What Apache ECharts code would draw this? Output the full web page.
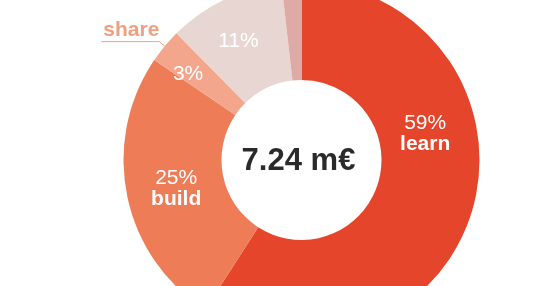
<!DOCTYPE html>
<html><head><meta charset="utf-8">
<script src="https://cdn.jsdelivr.net/npm/echarts@6/dist/echarts.min.js"></script>
<style>html,body{margin:0;padding:0;background:#fff;overflow:hidden}#c{width:553px;height:286px}</style>
</head><body><div id="c"></div>
<script>
// --- data ---
const names = ['learn', 'build', 'share', 'connect', 'other'];
const values = [59.1, 25.4, 3.1, 10.6, 1.8];
const totalLabel = '7.24 m€';
const showNameInside = [true, true, false, false, false];
const showNameOutside = [false, false, true, false, false];
const showPercent = [true, true, true, true, false];

// --- style ---
const colors = ['#E5452A', '#EE7C56', '#F3A68C', '#E8D6D3', '#DEAAA5'];
const labelShift = [[-3, -64], [4, 2], [-12, -1], [-6, 0], [0, 0]];
const FONT = '"Liberation Sans", Arial, sans-serif';
const CENTER = [301.5, 160];
const RADIUS = [80, 178];

const chart = echarts.init(document.getElementById('c'), null, {renderer: 'canvas'});

const innerData = names.map((n, i) => ({
  name: n, value: values[i],
  itemStyle: {color: colors[i]},
  label: {show: showPercent[i]}
}));
const outerData = names.map((n, i) => ({
  name: n, value: values[i],
  label: {show: showNameOutside[i]},
  labelLine: {show: showNameOutside[i]}
}));

chart.setOption({
  animation: false,
  title: {
    text: totalLabel,
    left: CENTER[0] - 3, top: CENTER[1] + 1,
    padding: 0,
    textAlign: 'center', textVerticalAlign: 'middle',
    textStyle: {fontFamily: FONT, fontSize: 31, fontWeight: 'bold', color: '#2a2a2a'}
  },
  series: [
    {
      type: 'pie',
      center: CENTER, radius: RADIUS,
      startAngle: 90, clockwise: true,
      percentPrecision: 0,
      silent: true,
      avoidLabelOverlap: false,
      data: innerData,
      label: {
        position: 'inside',
        formatter: p => showNameInside[p.dataIndex] ? '{p|' + p.percent + '%}\n{n|' + p.name + '}' : '{p|' + p.percent + '%}',
        rich: {
          p: {fontFamily: FONT, fontSize: 21, color: '#fff', lineHeight: 21},
          n: {fontFamily: FONT, fontSize: 21, fontWeight: 'bold', color: '#fff', lineHeight: 21}
        }
      },
      labelLine: {show: false},
      labelLayout: p => ({dx: labelShift[p.dataIndex][0], dy: labelShift[p.dataIndex][1]})
    },
    {
      type: 'pie',
      center: CENTER, radius: RADIUS,
      startAngle: 90, clockwise: true,
      silent: true,
      avoidLabelOverlap: false,
      data: outerData,
      itemStyle: {color: 'rgba(0,0,0,0)'},
      label: {
        position: 'outside',
        formatter: '{b}',
        fontFamily: FONT, fontSize: 21, fontWeight: 'bold', color: '#F0A080',
        distanceToLabelLine: 0
      },
      labelLine: {length: 7, length2: 0, lineStyle: {color: '#F0A080', width: 1}},
      labelLayout: function (params) {
        const pts = params.labelLinePoints;
        if (pts) {
          pts[2][0] = params.labelRect.x - 2;
          return {labelLinePoints: pts, dy: -11};
        }
        return {};
      }
    }
  ]
});
</script>
</body></html>
